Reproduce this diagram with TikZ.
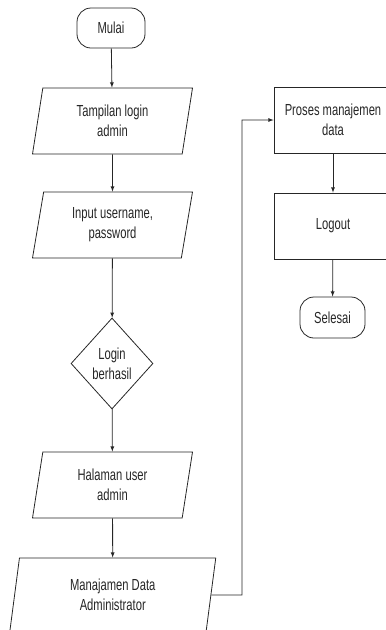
\documentclass[tikz,border=0pt]{standalone}
\usepackage{fontspec}
\setmainfont{Liberation Sans}[FakeStretch=0.7]
\usetikzlibrary{positioning,shapes,arrows}

\begin{document}
\begin{tikzpicture}[x=1pt,y=-1pt,>=latex]
\tikzstyle{every node}+=[inner sep=0pt,font=\fontsize{16}{20}\selectfont,align=center]
\tikzstyle{term}=[draw,rounded corners=14pt,minimum width=68pt,minimum height=40pt]
\tikzstyle{io}=[draw,trapezium,trapezium left angle=72,trapezium right angle=108,trapezium stretches body,minimum width=160pt,minimum height=66pt]
\tikzstyle{proc}=[draw,rectangle,minimum width=118pt,minimum height=66pt]
\tikzstyle{cek}=[draw,diamond,minimum width=82pt,minimum height=91pt]
\tikzstyle{line}=[draw,->,line width=0.8pt]
\useasboundingbox (0,0) rectangle (386,630);
\draw[black!85,line width=0.8pt]
  (111,28) node[term] (mulai) {Mulai}
  (112.5,121) node[io] (tampil) {Tampilan login\\admin}
  (112.5,225) node[io] (input) {Input username,\\password}
  (112,363.5) node[cek] (login) {Login\\berhasil}
  (112.5,485) node[io] (halaman) {Halaman user\\admin}
  (112.75,595) node[io,minimum width=206pt,minimum height=74pt,trapezium left angle=73,trapezium right angle=107] (manaj) {Manajamen Data\\Administrator}
  (333,120) node[proc] (proses) {Proses manajemen\\data}
  (333,226) node[proc] (logout) {Logout}
  (332.5,317.5) node[term,minimum width=65pt,minimum height=41pt] (selesai) {Selesai};
\coordinate (belok) at (242,595);
\draw[line,black!85] (mulai) -- (tampil);
\draw[line,black!85] (tampil) -- (input);
\draw[line,black!85] (input) -- (login);
\draw[line,black!85] (login) -- (halaman);
\draw[line,black!85] (halaman) -- (manaj);
\draw[line,black!85] (manaj.east) -- (belok) |- (proses.west);
\draw[line,black!85] (proses) -- (logout);
\draw[line,black!85] (logout) -- (selesai);
\end{tikzpicture}
\end{document}
